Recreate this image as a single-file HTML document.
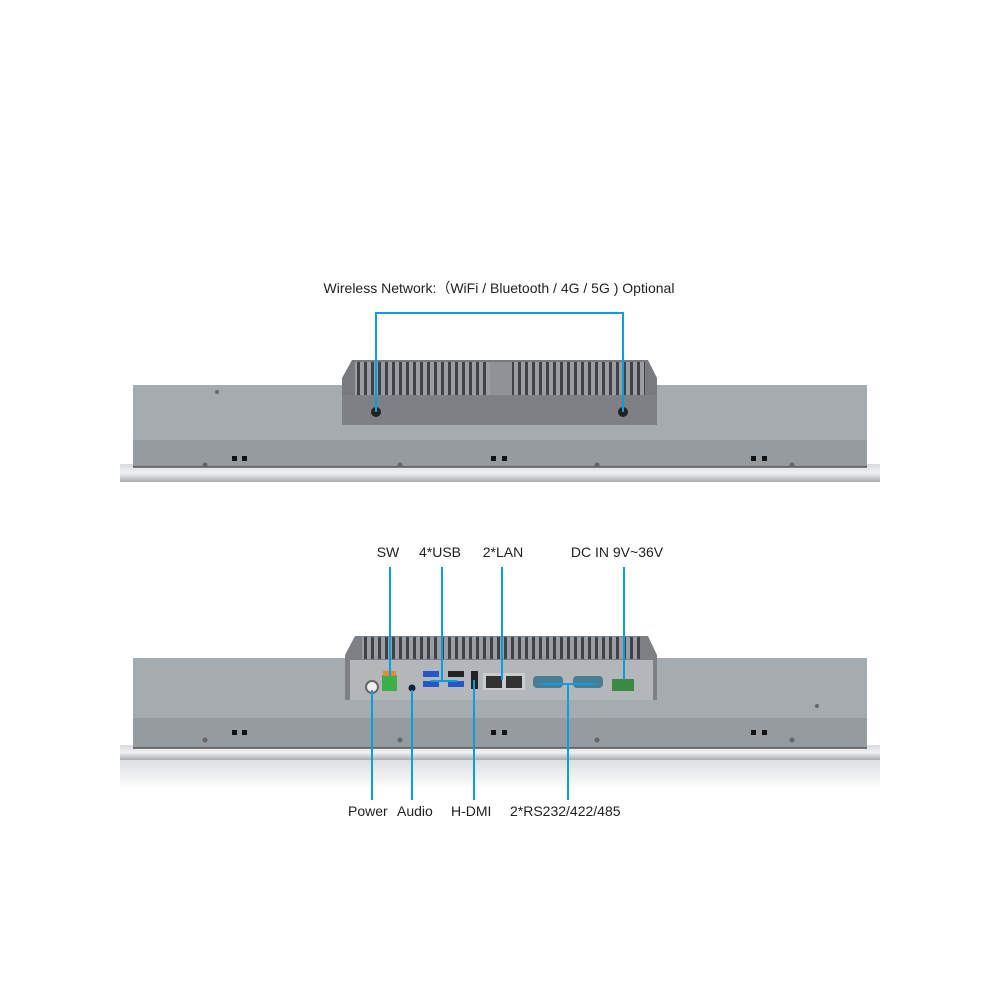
<!DOCTYPE html>
<html><head><meta charset="utf-8"><style>
html,body{margin:0;padding:0;background:#fff;width:1000px;height:1000px;overflow:hidden}
svg{display:block}
text{font-family:"Liberation Sans",sans-serif;fill:#222}
</style></head><body>
<svg width="1000" height="1000" viewBox="0 0 1000 1000">
<defs>
<pattern id="fins" width="7" height="20" patternUnits="userSpaceOnUse">
<rect width="7" height="20" fill="#9a9ea3"/><rect x="0" width="3" height="20" fill="#3f4348"/>
</pattern>
<linearGradient id="bez" x1="0" y1="0" x2="0" y2="1"><stop offset="0" stop-color="#d8dadc"/><stop offset="0.5" stop-color="#f0f1f2"/><stop offset="1" stop-color="#a9acaf"/></linearGradient>
<linearGradient id="refl" x1="0" y1="0" x2="0" y2="1"><stop offset="0" stop-color="#dcdee0"/><stop offset="1" stop-color="#ffffff"/></linearGradient>
</defs>

<text x="499" y="293" font-size="14" text-anchor="middle">Wireless Network:（WiFi / Bluetooth / 4G / 5G ) Optional</text>

<!-- top device -->
<rect x="120" y="464" width="760" height="18" fill="url(#bez)"/>
<rect x="133" y="385" width="734" height="82" fill="#9ea3a8"/>
<rect x="133" y="385" width="734" height="55" fill="#a6abb0"/>
<rect x="133" y="440" width="734" height="27" fill="#969ba0"/>
<line x1="133" y1="467" x2="867" y2="467" stroke="#555" stroke-width="1.5"/>
<path d="M352 360 L648 360 L657 378 L657 425 L342 425 L342 378 Z" fill="#777b80"/>
<rect x="355" y="362" width="290" height="40" fill="url(#fins)"/>
<rect x="490" y="362" width="22" height="40" fill="#8f9398"/>
<rect x="342" y="395" width="315" height="30" fill="#7d8186"/>
<circle cx="376" cy="412" r="5" fill="#222"/><circle cx="623" cy="412" r="5" fill="#222"/>
<g fill="#111"><rect x="232" y="456" width="5" height="5"/><rect x="242" y="456" width="5" height="5"/><rect x="491" y="456" width="5" height="5"/><rect x="502" y="456" width="5" height="5"/><rect x="751" y="456" width="5" height="5"/><rect x="762" y="456" width="5" height="5"/></g>
<g fill="#666"><circle cx="205" cy="465" r="2.5"/><circle cx="400" cy="465" r="2.5"/><circle cx="597" cy="465" r="2.5"/><circle cx="792" cy="465" r="2.5"/><circle cx="217" cy="392" r="2"/></g>
<path d="M376 412 V313 H623 V412" fill="none" stroke="#0a9ee0" stroke-width="2"/>

<!-- bottom device -->
<rect x="120" y="745" width="760" height="15" fill="url(#bez)"/>
<rect x="120" y="760" width="760" height="30" fill="url(#refl)"/>
<rect x="133" y="658" width="734" height="90" fill="#a6abb0"/>
<rect x="133" y="718" width="734" height="30" fill="#969ba0"/>
<line x1="133" y1="748" x2="867" y2="748" stroke="#555" stroke-width="1.5"/>
<path d="M355 636 L648 636 L657 655 L657 700 L345 700 L345 655 Z" fill="#7d8186"/>
<rect x="362" y="637" width="278" height="22" fill="url(#fins)"/>
<rect x="350" y="660" width="303" height="40" fill="#b4b7ba"/>
<circle cx="372" cy="687" r="6" fill="#eee" stroke="#666" stroke-width="2"/>
<rect x="382" y="675" width="15" height="16" fill="#3bb04a"/><rect x="383" y="671" width="13" height="5" fill="#e38a2c"/>
<circle cx="412" cy="688" r="3.5" fill="#123"/>
<rect x="423" y="671" width="16" height="6" fill="#2457c8"/><rect x="423" y="681" width="16" height="6" fill="#2457c8"/>
<rect x="448" y="671" width="16" height="6" fill="#222"/><rect x="448" y="681" width="16" height="6" fill="#2457c8"/>
<rect x="471" y="671" width="7" height="18" fill="#222"/>
<rect x="483" y="673" width="42" height="17" fill="#ccc"/><rect x="486" y="676" width="16" height="12" fill="#333"/><rect x="506" y="676" width="16" height="12" fill="#333"/>
<rect x="533" y="676" width="30" height="12" rx="4" fill="#4a7d92"/><rect x="573" y="676" width="30" height="12" rx="4" fill="#4a7d92"/>
<rect x="612" y="679" width="22" height="12" fill="#3a8a45"/>
<g fill="#111"><rect x="232" y="730" width="5" height="5"/><rect x="242" y="730" width="5" height="5"/><rect x="491" y="730" width="5" height="5"/><rect x="502" y="730" width="5" height="5"/><rect x="751" y="730" width="5" height="5"/><rect x="762" y="730" width="5" height="5"/></g>
<g fill="#666"><circle cx="205" cy="740" r="2.5"/><circle cx="400" cy="740" r="2.5"/><circle cx="597" cy="740" r="2.5"/><circle cx="792" cy="740" r="2.5"/><circle cx="817" cy="706" r="2"/></g>

<g stroke="#0a9ee0" stroke-width="2" fill="none">
<path d="M390 567 V676"/>
<path d="M442 567 V681 M431 681 H457"/>
<path d="M502 567 V680"/>
<path d="M624 567 V679"/>
<path d="M372 690 V800"/>
<path d="M412 690 V800"/>
<path d="M474 680 V800"/>
<path d="M568 684 V800 M540 684 H597"/>
</g>
<g font-size="14">
<text x="388" y="557" text-anchor="middle">SW</text>
<text x="440" y="557" text-anchor="middle">4*USB</text>
<text x="503" y="557" text-anchor="middle">2*LAN</text>
<text x="617" y="557" text-anchor="middle">DC IN 9V~36V</text>
<text x="348" y="816">Power</text>
<text x="397" y="816">Audio</text>
<text x="451" y="816">H-DMI</text>
<text x="510" y="816">2*RS232/422/485</text>
</g>
</svg>
</body></html>
